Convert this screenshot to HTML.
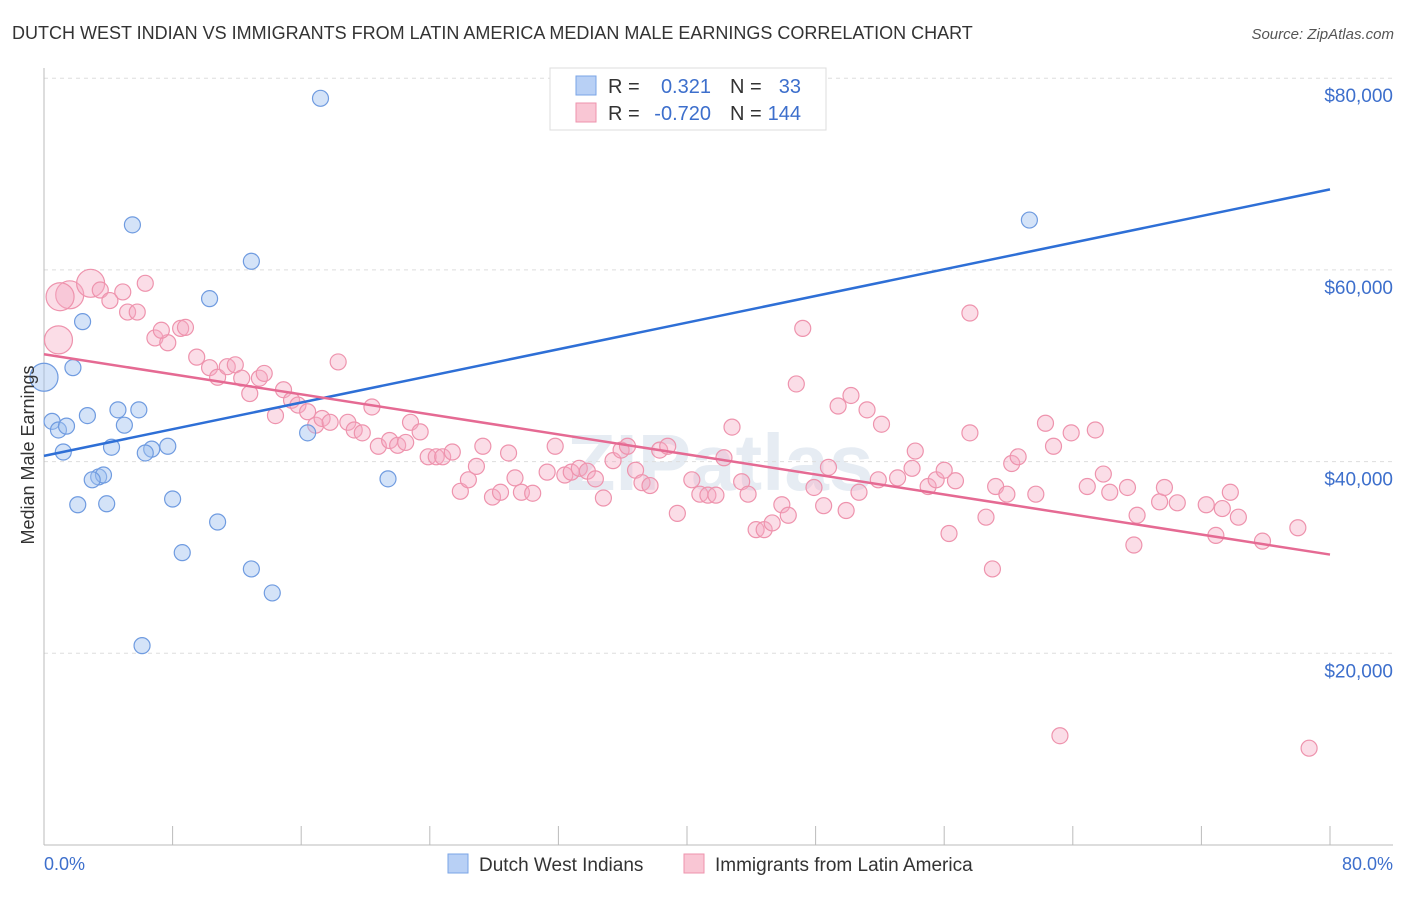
<!DOCTYPE html>
<html><head><meta charset="utf-8"><style>
body{margin:0;background:#fff;font-family:"Liberation Sans",sans-serif}
svg text{font-family:"Liberation Sans",sans-serif}
</style></head><body>
<svg id="chart" width="1406" height="892" xmlns="http://www.w3.org/2000/svg">
<text x="12" y="39" font-size="18" fill="#333">DUTCH WEST INDIAN VS IMMIGRANTS FROM LATIN AMERICA MEDIAN MALE EARNINGS CORRELATION CHART</text>
<text x="1394" y="39" font-size="15" fill="#555" text-anchor="end" font-style="italic">Source: ZipAtlas.com</text>
<text x="720" y="490" font-size="80" fill="#e6ecf3" text-anchor="middle" font-weight="bold">ZIPatlas</text>
<g id="grid"></g>
<g id="axes"></g>
<g id="pink"></g>
<g id="blue"></g>
<g id="lines"></g>
<text transform="translate(34,455) rotate(-90)" font-size="18" fill="#333" text-anchor="middle">Median Male Earnings</text>
<g>
<rect x="550" y="68" width="276" height="62" fill="#fff" stroke="#ddd"/>
<rect x="576" y="76" width="20" height="19" fill="#b8d0f5" stroke="#7aa4e6"/>
<rect x="576" y="103" width="20" height="19" fill="#f9c6d4" stroke="#ee93ad"/>
<text x="608" y="93" font-size="20" fill="#333">R =</text>
<text x="711" y="93" font-size="20" fill="#3d6fcc" text-anchor="end">0.321</text>
<text x="730" y="93" font-size="20" fill="#333">N =</text>
<text x="801" y="93" font-size="20" fill="#3d6fcc" text-anchor="end">33</text>
<text x="608" y="120" font-size="20" fill="#333">R =</text>
<text x="711" y="120" font-size="20" fill="#3d6fcc" text-anchor="end">-0.720</text>
<text x="730" y="120" font-size="20" fill="#333">N =</text>
<text x="801" y="120" font-size="20" fill="#3d6fcc" text-anchor="end">144</text>
</g>
<g>
<rect x="448" y="854" width="20" height="19" fill="#b8d0f5" stroke="#7aa4e6"/>
<text x="479" y="871" font-size="19" fill="#333">Dutch West Indians</text>
<rect x="684" y="854" width="20" height="19" fill="#f9c6d4" stroke="#ee93ad"/>
<text x="715" y="871" font-size="19" fill="#333">Immigrants from Latin America</text>
</g>
<text x="44" y="870" font-size="18" fill="#3d6fcc">0.0%</text>
<text x="1393" y="870" font-size="18" fill="#3d6fcc" text-anchor="end">80.0%</text>
</svg>
<script>
const yTicks=[20000,40000,60000,80000];
const yTickLabels=["$20,000","$40,000","$60,000","$80,000"];
const xTicks=[0,8,16,24,32,40,48,56,64,72,80];
const blueX=[17.2,5.5,12.9,61.3,10.3,2.4,1.8,0.0,0.5,0.9,1.4,2.7,4.6,5.9,5.0,1.2,4.2,6.7,6.3,7.7,16.4,3.4,3.7,3.0,21.4,2.1,3.9,8.0,10.8,8.6,12.9,14.2,6.1];
const blueY=[77.9,64.7,60.9,65.2,57.0,54.6,49.8,48.8,44.2,43.3,43.7,44.8,45.4,45.4,43.8,41.0,41.5,41.3,40.9,41.6,43.0,38.4,38.6,38.1,38.2,35.5,35.6,36.1,33.7,30.5,28.8,26.3,20.8];
const pinkX=[0.9,1.6,1.0,2.9,3.5,4.9,4.1,5.2,5.8,6.3,6.9,7.7,7.3,8.5,8.8,9.5,10.3,10.8,11.4,11.9,12.3,12.8,13.4,13.7,14.4,14.9,15.4,15.8,16.4,16.9,17.3,17.8,18.3,18.9,19.3,19.8,20.4,20.8,21.5,22.0,22.5,22.8,23.4,23.9,24.4,24.8,25.4,25.9,26.4,26.9,27.3,27.9,28.4,28.9,29.3,29.7,30.4,31.3,31.8,32.4,32.8,33.3,33.8,34.3,34.8,35.4,35.9,36.3,36.8,37.2,37.7,38.3,38.8,39.4,40.3,40.8,41.3,41.8,42.3,42.8,43.4,43.8,44.3,44.8,45.3,45.9,46.3,46.8,47.2,47.9,48.5,48.8,49.4,49.9,50.2,50.7,51.2,51.9,52.1,53.1,54.0,54.2,55.0,55.5,56.0,56.3,56.7,57.6,57.6,58.6,59.0,59.2,59.9,60.2,60.6,61.7,62.3,62.8,63.2,63.9,64.9,65.4,65.9,66.3,67.4,67.8,68.0,69.4,69.7,70.5,72.3,72.9,73.3,73.8,74.3,75.8,78.0,78.7];
const pinkY=[52.7,57.4,57.2,58.6,57.9,57.7,56.8,55.6,55.6,58.6,52.9,52.4,53.7,53.9,54.0,50.9,49.8,48.8,49.9,50.1,48.7,47.1,48.7,49.2,44.8,47.5,46.4,45.9,45.2,43.8,44.5,44.1,50.4,44.1,43.3,43.0,45.7,41.6,42.2,41.7,42.0,44.1,43.1,40.5,40.5,40.5,41.0,36.9,38.1,39.5,41.6,36.3,36.8,40.9,38.3,36.8,36.7,38.9,41.6,38.6,38.9,39.3,39.0,38.2,36.2,40.1,41.2,41.6,39.1,37.8,37.5,41.2,41.6,34.6,38.1,36.6,36.5,36.5,40.4,43.6,37.9,36.6,32.9,32.9,33.6,35.5,34.4,48.1,53.9,37.3,35.4,39.4,45.8,34.9,46.9,36.8,45.4,38.1,43.9,38.3,39.3,41.1,37.4,38.1,39.1,32.5,38.0,55.5,43.0,34.2,28.8,37.4,36.6,39.8,40.5,36.6,44.0,41.6,11.4,43.0,37.4,43.3,38.7,36.8,37.3,31.3,34.4,35.8,37.3,35.7,35.5,32.3,35.1,36.8,34.2,31.7,33.1,10.1];
const bigPink=[0,1,2,3];
const blueLine=[[0,40.6],[80,68.4]];
const pinkLine=[[0,51.2],[80,30.3]];
const NS="http://www.w3.org/2000/svg";
const X=v=>44+v*(1286/80);
const Y=v=>845-v*1000*(191.7/20000);
function mk(tag,attrs,parent){const e=document.createElementNS(NS,tag);for(const k in attrs)e.setAttribute(k,attrs[k]);document.getElementById(parent).appendChild(e);return e;}
yTicks.forEach((t,i)=>{
 const l=mk('line',{x1:44,x2:1393,y1:Y(t/1000),y2:Y(t/1000),stroke:'#ddd','stroke-dasharray':'4,4'},'grid');
 
 
 const tx=mk('text',{x:1393,y:Y(t/1000)+24,'font-size':19,fill:'#3d6fcc','text-anchor':'end'},'grid');
 tx.textContent=yTickLabels[i];
 
 
});
const ax=mk('line',{x1:44,x2:1393,y1:845,y2:845,stroke:'#bbb'},'axes');


const ay=mk('line',{x1:44,x2:44,y1:68,y2:845,stroke:'#bbb'},'axes');


xTicks.forEach(t=>{const l=mk('line',{x1:X(t),x2:X(t),y1:826,y2:845,stroke:'#bbb'},'axes');
 
 });
pinkX.forEach((x,i)=>{const big=bigPink.includes(i);
 const c=mk('circle',{cx:X(x),cy:Y(pinkY[i]),r:big?14:8,fill:'rgba(246,170,194,0.4)',stroke:'#ee93ad','stroke-width':1.2},'pink');
 
 });
blueX.forEach((x,i)=>{
 const c=mk('circle',{cx:X(x),cy:Y(blueY[i]),r:i===7?14:8,fill:'rgba(160,192,240,0.45)',stroke:'#6f9be0','stroke-width':1.2},'blue');
 
 });
const bl=mk('line',{x1:X(blueLine[0][0]),y1:Y(blueLine[0][1]),x2:X(blueLine[1][0]),y2:Y(blueLine[1][1]),stroke:'#2e6fd6','stroke-width':2.5},'lines');


const pl=mk('line',{x1:X(pinkLine[0][0]),y1:Y(pinkLine[0][1]),x2:X(pinkLine[1][0]),y2:Y(pinkLine[1][1]),stroke:'#e56a93','stroke-width':2.5},'lines');


</script>
</body></html>
